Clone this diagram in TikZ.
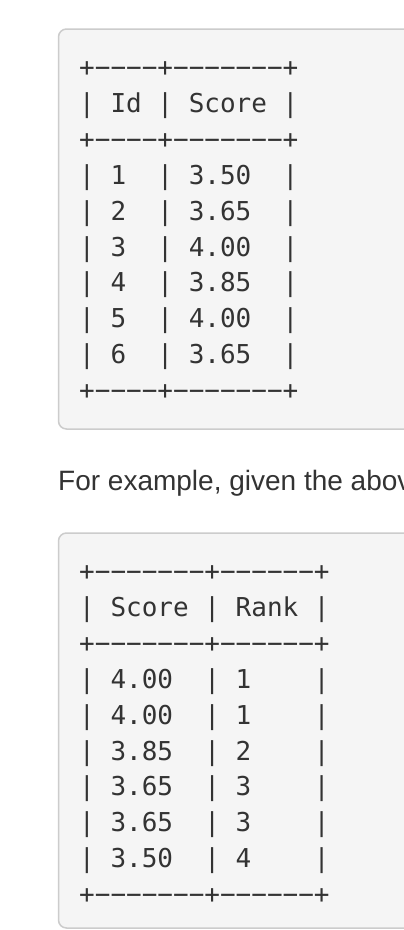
\documentclass[tikz,border=0pt]{standalone}
\usepackage{fontspec}
\setmainfont{Liberation Sans}
\setmonofont{DejaVu Sans Mono}
\usepackage{xcolor}
\definecolor{codebg}{HTML}{F5F5F5}
\definecolor{codeborder}{HTML}{CCCCCC}
\definecolor{inktext}{HTML}{333333}

\begin{document}
\begin{tikzpicture}[x=1pt, y=-1pt,
    codebox/.style={fill=codebg, draw=codeborder, line width=1.5pt, rounded corners=8pt},
    codeline/.style={anchor=base west, inner sep=0pt, text=inktext, font=\ttfamily\fontsize{26}{36}\selectfont},
    bodytext/.style={anchor=base west, inner sep=0pt, text=inktext, font=\fontsize{28}{40}\selectfont}]
    % Page
    \useasboundingbox (0,0) rectangle (404,930);
    \clip (0,0) rectangle (404,930);
    \fill[white] (0,0) rectangle (404,930);

    % Scores table
    \draw[codebox] (58.5,29) rectangle (440,429);
    \foreach \row [count=\i from 0] in {+−−−−+−−−−−−−+, |~Id~|~Score~|, +−−−−+−−−−−−−+,
        |~1~~|~3.50~~|, |~2~~|~3.65~~|, |~3~~|~4.00~~|, |~4~~|~3.85~~|,
        |~5~~|~4.00~~|, |~6~~|~3.65~~|, +−−−−+−−−−−−−+} {
        \node[codeline] (scores-\i) at (79, {76.5+35.9*\i}) {\row};
    }

    % Sentence
    \node[bodytext] (sentence) at (58, 490) {For example, given the abov};

    % Rank table
    \draw[codebox] (58.5,533) rectangle (440,928);
    \foreach \row [count=\i from 0] in {+−−−−−−−+−−−−−−+, |~Score~|~Rank~|, +−−−−−−−+−−−−−−+,
        |~4.00~~|~1~~~~|, |~4.00~~|~1~~~~|, |~3.85~~|~2~~~~|, |~3.65~~|~3~~~~|,
        |~3.65~~|~3~~~~|, |~3.50~~|~4~~~~|, +−−−−−−−+−−−−−−+} {
        \node[codeline] (ranks-\i) at (79, {580.5+35.9*\i}) {\row};
    }
\end{tikzpicture}
\end{document}
